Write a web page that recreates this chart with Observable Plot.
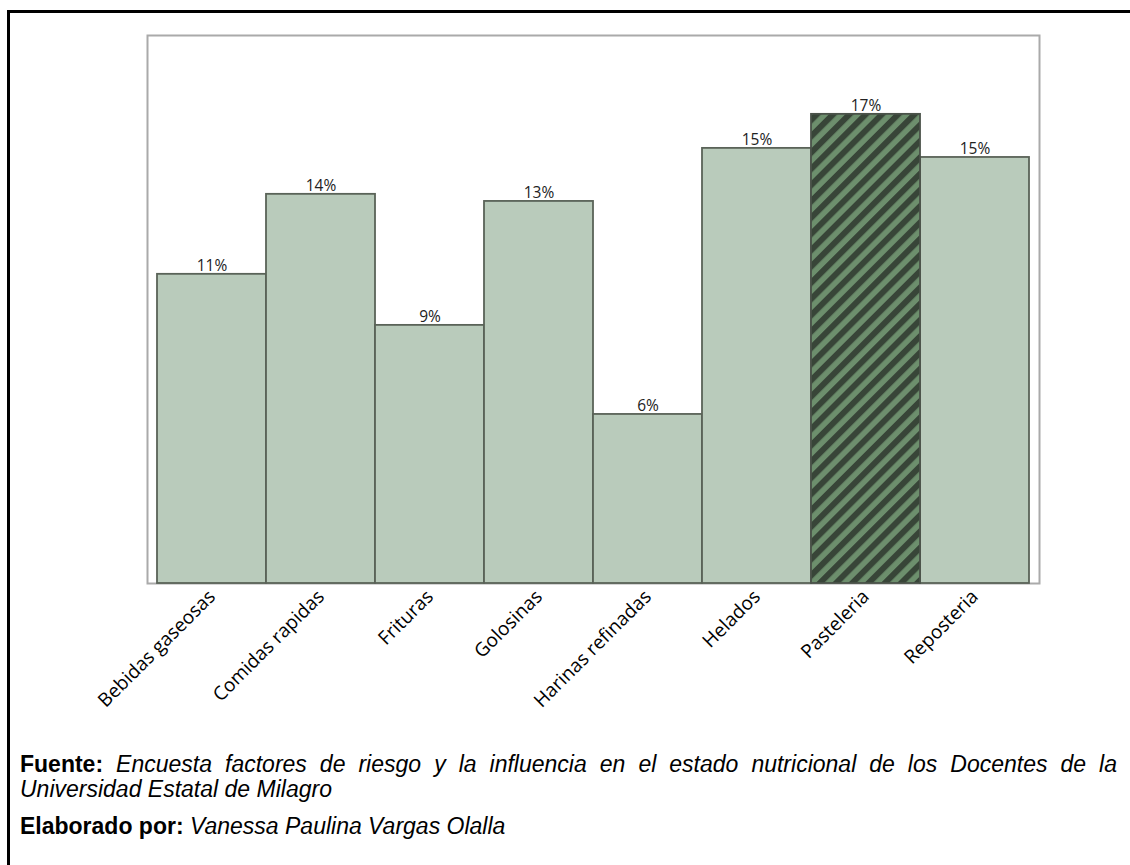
<!DOCTYPE html>
<html><head><meta charset="utf-8">
<script src="https://cdn.jsdelivr.net/npm/d3@7"></script>
<script src="https://cdn.jsdelivr.net/npm/@observablehq/plot@0.6"></script>
<style>
body{margin:0;background:#fff;width:1130px;height:865px;overflow:hidden;position:relative;}
#border{position:absolute;left:7px;top:10px;width:1200px;height:900px;border-top:3px solid #000;border-left:3px solid #000;}
#chart{position:absolute;left:0;top:0;}
#foot{position:absolute;left:20px;top:752px;width:1097px;font-family:"Liberation Sans",Arial,sans-serif;font-size:23px;line-height:25px;color:#000;}
#foot p{margin:0;text-align:left;white-space:nowrap;}
#foot p.j{text-align:justify;text-align-last:justify;}
#foot p.gap{margin-top:12px;}
</style>
</head><body>
<div id="border"></div>
<div id="chart"></div>
<div id="foot">
<p class="j"><b>Fuente:</b> <i>Encuesta factores de riesgo y la influencia en el estado nutricional de los Docentes de la</i></p>
<p><i>Universidad Estatal de Milagro</i></p>
<p class="gap"><b>Elaborado por:</b> <i>Vanessa Paulina Vargas Olalla</i></p>
</div>
<script>
const categories = ["Bebidas gaseosas","Comidas rapidas","Frituras","Golosinas","Harinas refinadas","Helados","Pasteleria","Reposteria"];
const values = [10.9, 13.72, 9.1, 13.47, 5.96, 15.34, 16.54, 15.02];
const labels = ["11%","14%","9%","13%","6%","15%","17%","15%"];
const highlighted = "Pasteleria";
const data = categories.map((c, i) => ({cat: c, value: values[i], label: labels[i]}));

const chart = Plot.plot({
  width: 1130, height: 740,
  marginLeft: 147, marginRight: 91, marginTop: 35, marginBottom: 157,
  style: {fontFamily: "'Open Sans', sans-serif", background: "transparent", color: "#000"},
  x: {domain: categories, paddingInner: 0, paddingOuter: 0.082},
  y: {domain: [0, 19.32], axis: null},
  marks: [
    Plot.frame({stroke: "#aaaaaa", strokeWidth: 2}),
    Plot.barY(data.filter(d => d.cat !== highlighted), {x: "cat", y: "value", fill: "#b9cbbb", stroke: "#5a6358", strokeWidth: 1.8}),
    Plot.barY(data.filter(d => d.cat === highlighted), {x: "cat", y: "value", fill: "url(#hatch)", stroke: "#4a5249", strokeWidth: 1.8}),
    Plot.text(data, {x: "cat", y: "value", text: "label", lineAnchor: "bottom", dy: -3, fontSize: 15.5, fill: "#222"}),
    Plot.axisX({tickRotate: -45, tickSize: 0, tickPadding: 10, fontSize: 19, label: null})
  ]
});
chart.insertAdjacentHTML("afterbegin",
  '<defs><pattern id="hatch" patternUnits="userSpaceOnUse" width="11.5" height="11.5" patternTransform="rotate(45)">' +
  '<rect width="11.5" height="11.5" fill="#6d8f6d"></rect><rect width="6" height="11.5" fill="#384538"></rect></pattern></defs>');
document.getElementById("chart").appendChild(chart);
</script>
</body></html>
